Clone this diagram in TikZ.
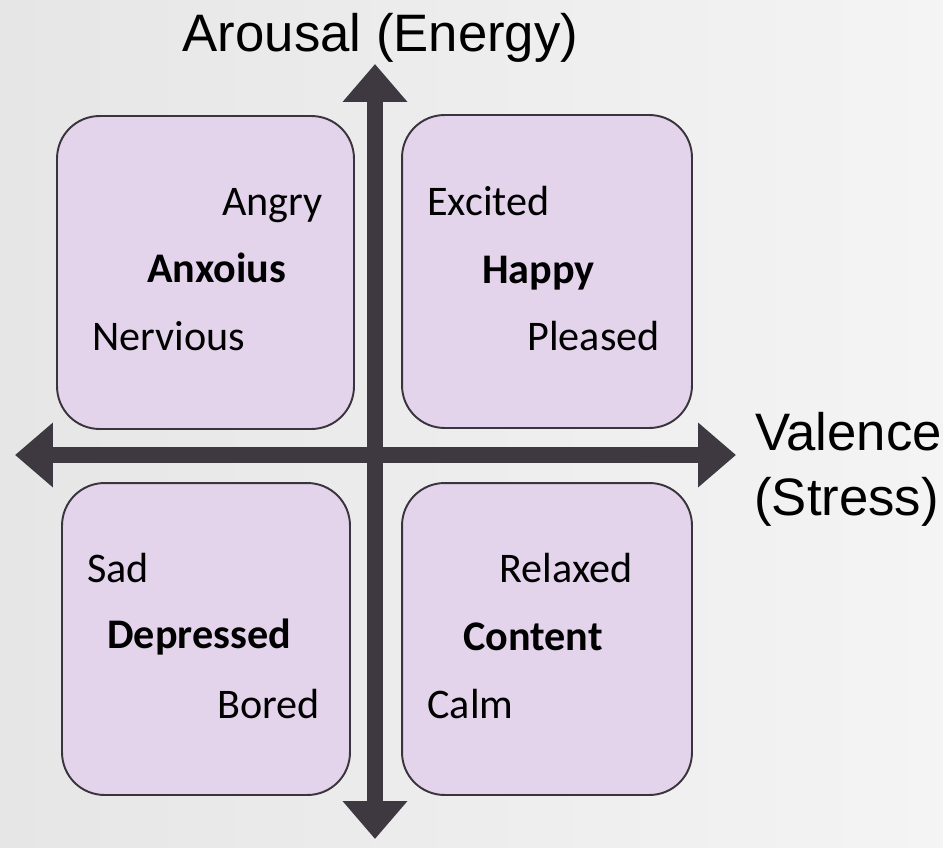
\documentclass[tikz,border=0pt]{standalone}
\usepackage{fontspec}
\usetikzlibrary{arrows.meta}
\newfontfamily\axisfont{Liberation Sans}
\newfontfamily\moodfont{Carlito}
\definecolor{moodfill}{HTML}{E3D4EC}
\definecolor{mooddraw}{HTML}{3A353C}
\definecolor{axisgray}{HTML}{3E3940}
\definecolor{bgleft}{HTML}{E6E6E6}
\definecolor{bgright}{HTML}{F4F4F4}
\begin{document}
\begin{tikzpicture}[x=0.02cm, y=-0.02cm,
        quadrant/.style={draw=mooddraw, line width=1.1pt, fill=moodfill, rectangle, rounded corners=0.85cm, minimum height=6.26cm},
        mood/.style={anchor=base west, inner sep=0pt, font=\moodfont\fontsize{24}{29}\selectfont},
        keymood/.style={mood, font=\moodfont\bfseries\fontsize{24}{29}\selectfont},
        axislabel/.style={inner sep=0pt, font=\axisfont\fontsize{30}{36}\selectfont},
        axis/.style={axisgray, line width=0.32cm, {Triangle[width=1.25cm, length=0.76cm]}-{Triangle[width=1.25cm, length=0.76cm]}}]
        \shade[left color=bgleft, right color=bgright] (0,0) rectangle (943,848);
        \useasboundingbox (0,0) rectangle (943,848);

        \node[quadrant, minimum width=5.94cm] (anxious) at (205.5,272.5) {};
        \node[quadrant, minimum width=5.8cm] (happy) at (547,271.5) {};
        \node[quadrant, minimum width=5.76cm, minimum height=6.24cm] (depressed) at (206,639) {};
        \node[quadrant, minimum width=5.8cm, minimum height=6.24cm] (content) at (547,639) {};

        \coordinate (west) at (15,455);
        \coordinate (east) at (736,455);
        \coordinate (north) at (375,64);
        \coordinate (south) at (375,839);
        \draw[axis] (west) -- (east);
        \draw[axis] (south) -- (north);

        \node[axislabel, anchor=base] (arousal) at (380.5,52) {Arousal (Energy)};
        \node[axislabel, anchor=base west] (valence) at (755,450) {Valence};
        \node[axislabel, anchor=base west] (stress) at (754,515) {(Stress)};

        \node[mood] (angry) at (222,215) {Angry};
        \node[keymood] (anxoius) at (147,282) {Anxoius};
        \node[mood] (nervious) at (92,350) {Nervious};

        \node[mood] (excited) at (427,215) {Excited};
        \node[keymood] (happyword) at (482,283) {Happy};
        \node[mood] (pleased) at (527,350) {Pleased};

        \node[mood] (sad) at (87,582) {Sad};
        \node[keymood] (depressedword) at (107,648) {Depressed};
        \node[mood] (bored) at (217,718) {Bored};

        \node[mood] (relaxed) at (499,582) {Relaxed};
        \node[keymood] (contentword) at (463,650) {Content};
        \node[mood] (calm) at (427,718) {Calm};
    \end{tikzpicture}
\end{document}
